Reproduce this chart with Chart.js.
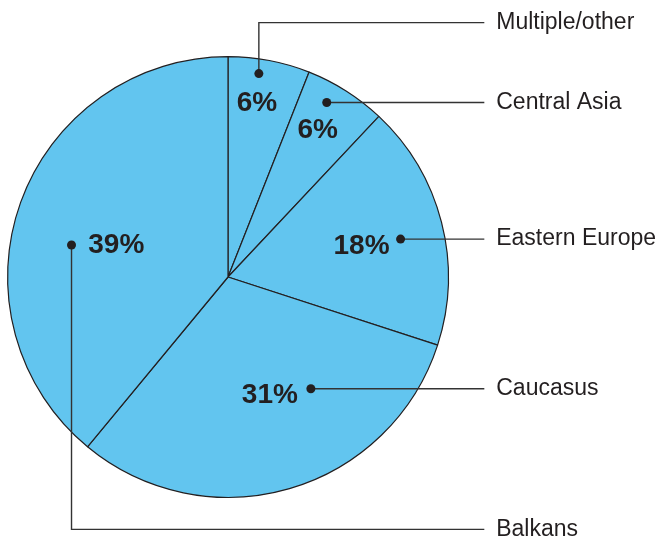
<!DOCTYPE html>
<html lang="en">

<head>
  <meta charset="UTF-8">
  <title>Regions</title>
  <script src="https://cdn.jsdelivr.net/npm/chart.js"></script>
  <style>
    html, body { margin: 0; padding: 0; background: #fff; }
    #wrap { width: 662px; height: 542px; position: relative; }
  </style>
</head>

<body>
  <div id="wrap"><canvas id="pieChart"></canvas></div>

  <script>
    const regions = ["Multiple/other", "Central Asia", "Eastern Europe", "Caucasus", "Balkans"];
    const shares = [6, 6, 18, 31, 39];

    // where the dot, percent text and side label sit, in units of the pie radius
    const dotAt = [[0.140, -0.923], [0.448, -0.792], [0.783, -0.172], [0.376, 0.507], [-0.710, -0.145]];
    const pctAt = [[0.131, -0.787], [0.407, -0.665], [0.606, -0.140], [0.190, 0.538], [-0.507, -0.145]];
    const labelY = [-1.154, -0.792, -0.172, 0.507, 1.145];

    const ink = "#231f20";

    const calloutPlugin = {
      id: "callouts",
      afterDatasetsDraw(chart) {
        const ctx = chart.ctx;
        const arc = chart.getDatasetMeta(0).data[0];
        const cx = arc.x, cy = arc.y, r = arc.outerRadius;
        const lineEnd = cx + r * 1.163;
        const textX = cx + r * 1.217;

        ctx.save();
        regions.forEach((name, i) => {
          const dx = cx + dotAt[i][0] * r;
          const dy = cy + dotAt[i][1] * r;
          const ly = cy + labelY[i] * r;

          // leader line
          ctx.strokeStyle = "#333";
          ctx.lineWidth = 1.4;
          ctx.beginPath();
          ctx.moveTo(dx, dy);
          if (Math.abs(ly - dy) > 2) ctx.lineTo(dx, ly);
          ctx.lineTo(lineEnd, ly);
          ctx.stroke();

          // dot
          ctx.fillStyle = ink;
          ctx.beginPath();
          ctx.arc(dx, dy, 4.5, 0, Math.PI * 2);
          ctx.fill();

          // percent
          ctx.font = "bold 28px 'Liberation Sans', Arial, sans-serif";
          ctx.textAlign = "center";
          ctx.textBaseline = "middle";
          ctx.fillText(shares[i] + "%", cx + pctAt[i][0] * r, cy + pctAt[i][1] * r);

          // region name
          ctx.font = "23px 'Liberation Sans', Arial, sans-serif";
          ctx.textAlign = "left";
          ctx.fillText(name, textX, ly);
        });
        ctx.restore();
      }
    };

    new Chart(document.getElementById("pieChart"), {
      type: "pie",
      data: {
        labels: regions,
        datasets: [{
          data: shares,
          backgroundColor: "#62c5ef",
          borderColor: ink,
          borderWidth: 1.2
        }]
      },
      options: {
        responsive: true,
        maintainAspectRatio: false,
        animation: false,
        layout: { padding: { left: 7, right: 213, top: 56, bottom: 44 } },
        plugins: {
          legend: { display: false },
          tooltip: { enabled: false }
        }
      },
      plugins: [calloutPlugin]
    });
  </script>
</body>

</html>
